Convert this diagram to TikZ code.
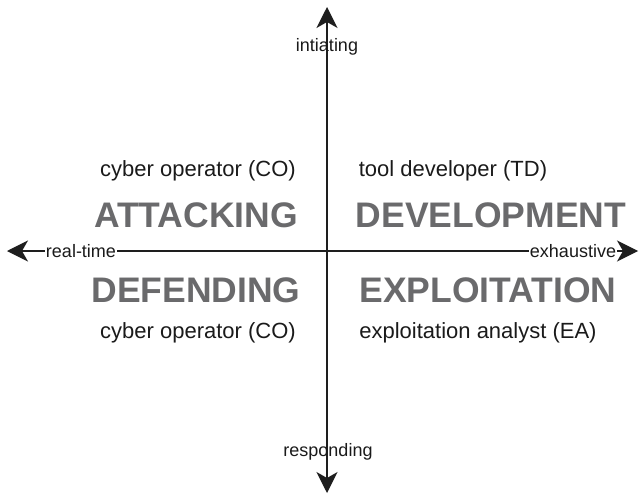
\documentclass[tikz,border=0pt]{standalone}
\usepackage{fontspec}
\setmainfont{Liberation Sans}
\usetikzlibrary{arrows.meta}
\definecolor{axiscol}{HTML}{1E1E1E}
\definecolor{bigcol}{HTML}{6A6A6C}
\definecolor{txtcol}{HTML}{1A1A1A}
\begin{document}
\begin{tikzpicture}[x=1pt,y=-1pt,
  axis/.style={draw=axiscol,line width=1.3pt,-{Stealth[length=21pt,width=21pt,inset=6pt]}},
  axlabel/.style={font=\fontsize{18}{20}\selectfont,text=txtcol,inner sep=1pt},
  role/.style={font=\fontsize{22}{24}\selectfont,text=txtcol,inner sep=0pt},
  quad/.style={font=\fontsize{35.5}{38}\selectfont\bfseries,text=bigcol,inner sep=0pt}]
\useasboundingbox (0,0) rectangle (644,497);
\coordinate (O) at (327,251);
\coordinate (top) at (327,7);
\coordinate (bot) at (327,493);
\coordinate (lft) at (7,251);
\coordinate (rgt) at (638,251);
\draw[axis] (O) -- (top);
\draw[axis] (O) -- (bot);
\draw[axis] (O) -- (lft);
\draw[axis] (O) -- (rgt);
\node[axlabel] (init) at (327,47) {intiating};
\node[axlabel] (resp) at (328,452) {responding};
\node[axlabel,fill=white] (rt) at (81,251) {real-time};
\node[axlabel,fill=white] (exh) at (573,251) {exhaustive};
\node[role] (co1) at (198,171) {cyber operator (CO)};
\node[role] (td) at (453,171) {tool developer (TD)};
\node[role] (co2) at (198,333) {cyber operator (CO)};
\node[role] (ea) at (478,333) {exploitation analyst (EA)};
\node[quad] (att) at (196,215) {ATTACKING};
\node[quad] (dev) at (491,215) {DEVELOPMENT};
\node[quad] (def) at (196,290) {DEFENDING};
\node[quad] (exp) at (488,290) {EXPLOITATION};
\end{tikzpicture}
\end{document}
